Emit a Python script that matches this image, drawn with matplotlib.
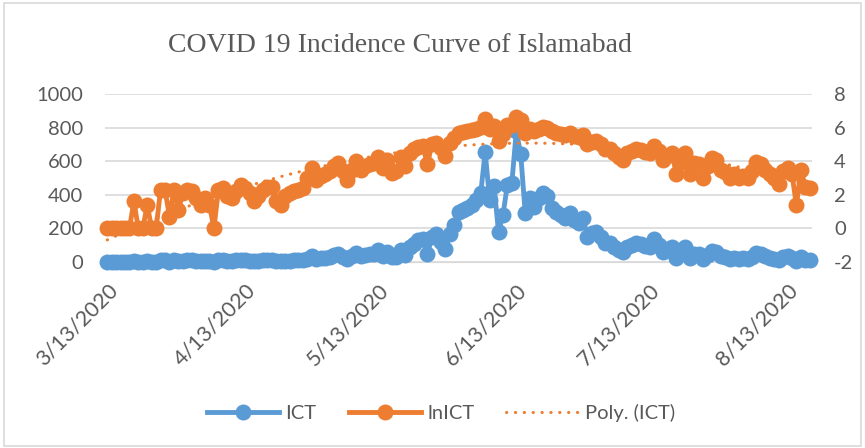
import matplotlib.pyplot as plt
import numpy as np
import pandas as pd
from matplotlib.patches import Rectangle

plt.switch_backend('agg')

# daily cases, Islamabad Capital Territory, 3/13/2020 - 8/18/2020
start_date = "2020-03-13"
ict = [
    1, 1, 1, 1, 1, 1, 5, 1, 1, 4,
    1, 1, 10, 10, 2, 10, 3, 8, 10, 9,
    6, 4, 6, 4, 1, 10, 11, 7, 6, 9,
    13, 11, 8, 5, 7, 10, 12, 12, 5, 4,
    7, 8, 9, 10, 11, 20, 37, 18, 22, 25,
    30, 40, 49, 30, 18, 33, 55, 33, 40, 45,
    49, 70, 37, 60, 27, 30, 70, 40, 90, 110,
    128, 134, 45, 148, 164, 121, 75, 164, 221, 300,
    310, 320, 340, 369, 410, 655, 370, 450, 179, 280,
    460, 470, 780, 640, 292, 381, 330, 380, 410, 390,
    321, 295, 280, 262, 290, 250, 232, 262, 150, 170,
    180, 149, 113, 113, 90, 71, 60, 89, 100, 113,
    107, 95, 89, 135, 100, 59, 75, 90, 25, 52,
    90, 25, 50, 45, 20, 40, 67, 59, 33, 28,
    20, 25, 20, 22, 20, 30, 52, 45, 33, 25,
    20, 14, 30, 37, 25, 4, 32, 12, 11,
]
tick_dates = ["2020-03-13", "2020-04-13", "2020-05-13", "2020-06-13", "2020-07-13", "2020-08-13"]
tick_labels = ["3/13/2020", "4/13/2020", "5/13/2020", "6/13/2020", "7/13/2020", "8/13/2020"]
left_ticks = [0, 200, 400, 600, 800, 1000]
right_ticks = [-2, 0, 2, 4, 6, 8]

blue = '#5B9BD5'
orange = '#ED7D31'
grey_txt = '#595959'
grid_c = '#D9D9D9'

plt.rcParams['font.family'] = ['Lato', 'DejaVu Sans']
plt.rcParams['axes.unicode_minus'] = False

dates = pd.date_range(start_date, periods=len(ict), freq='D')
ict = np.array(ict, dtype=float)
ln_ict = np.log(ict)

# polynomial trendline (order 2), like Excel's
xi = np.arange(len(ict))
coef = np.polyfit(xi, ln_ict, 2)
trend = np.polyval(coef, xi)

fig = plt.figure(figsize=(8.65, 4.48), dpi=100)
fig.patches.append(Rectangle((0.005, 0.004), 0.99, 0.989, transform=fig.transFigure,
                             fill=False, edgecolor=grid_c, linewidth=1.2))
ax = fig.add_axes([105 / 865, 1 - 262 / 448, 707 / 865, 168 / 448])
ax2 = ax.twinx()

ax.plot(dates, ict, color=blue, linewidth=3.5, marker='o', markersize=11.5,
        markeredgewidth=0, label='ICT', zorder=3, clip_on=False)
l2, = ax2.plot(dates, ln_ict, color=orange, linewidth=3.5, marker='o', markersize=11.5,
               markeredgewidth=0, label='lnICT', zorder=3, clip_on=False)
l3, = ax2.plot(dates, trend, color=orange, linewidth=2.2, linestyle=(0, (0.1, 2.8)),
               dash_capstyle='round', label='Poly. (ICT)', zorder=2)

ax.set_ylim(0, 1000)
ax2.set_ylim(-2, 8)
ax.set_yticks(left_ticks)
ax2.set_yticks(right_ticks)
ax.set_xlim(dates[0] - pd.Timedelta(hours=12), dates[-1] + pd.Timedelta(hours=12))

ax.set_xticks([pd.Timestamp(d) for d in tick_dates])
ax.set_xticklabels(tick_labels, rotation=45, ha='right', rotation_mode='anchor')

ax.grid(axis='y', color=grid_c, linewidth=1.2)
ax.set_axisbelow(True)
for a in (ax, ax2):
    for s in a.spines.values():
        s.set_visible(False)
    a.tick_params(length=0, labelsize=14.5, labelcolor=grey_txt)
ax.spines['bottom'].set_visible(True)
ax.spines['bottom'].set_color(grid_c)
ax.tick_params(axis='y', pad=16)
ax2.tick_params(axis='y', pad=16)
ax.tick_params(axis='x', pad=13, labelsize=15.5)

fig.text(400 / 865, 1 - 52 / 448, "COVID 19 Incidence Curve of Islamabad",
         family='Liberation Serif', fontsize=20, color=grey_txt, ha='center', va='baseline')

h1, _ = ax.get_legend_handles_labels()
fig.legend(handles=h1 + [l2, l3], labels=['ICT', 'lnICT', 'Poly. (ICT)'],
           loc='center', bbox_to_anchor=(441 / 865, 1 - 413 / 448), ncol=3,
           frameon=False, fontsize=14.5, handlelength=3.6, labelcolor=grey_txt,
           handletextpad=0.3, columnspacing=1.6)

fig.savefig('out.png', dpi=100)
